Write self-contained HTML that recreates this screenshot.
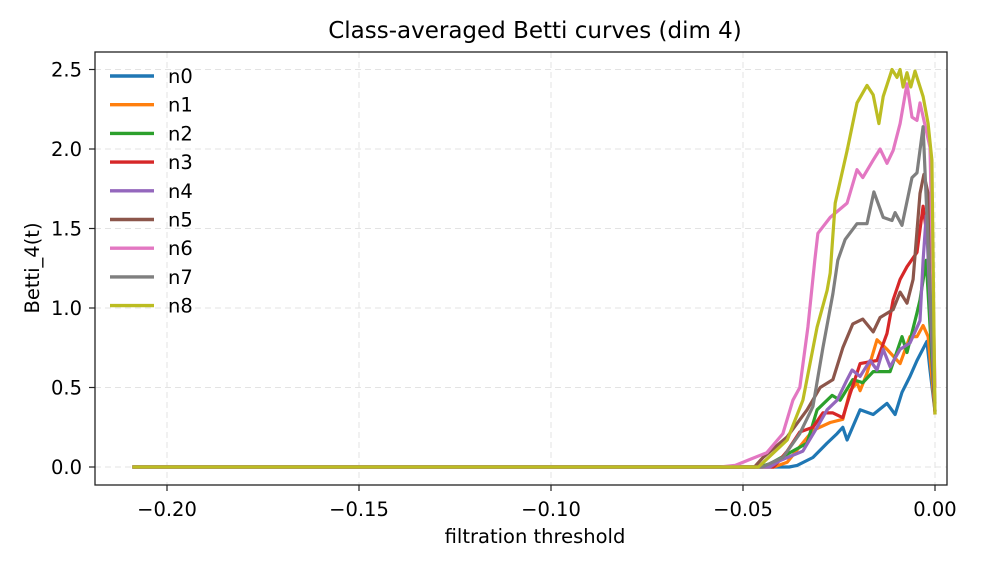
<!DOCTYPE html>
<html><head><meta charset="utf-8"><style>
body{margin:0;background:#fff}
svg{font-family:"DejaVu Sans","Liberation Sans",sans-serif}
</style></head><body>
<svg id="chart" width="997" height="570" xmlns="http://www.w3.org/2000/svg">
<rect width="997" height="570" fill="#fff"/>
<text x="535" y="38" font-size="23" text-anchor="middle">Class-averaged Betti curves (dim 4)</text>
<g id="grid"></g>
<g id="series"></g>
<rect x="95" y="52" width="852" height="433" fill="none" stroke="#222" stroke-width="1.3"/>
<g id="axes" font-size="19.5"></g>
<text x="535" y="543" font-size="19.5" text-anchor="middle">filtration threshold</text>
<text transform="translate(39,268) rotate(-90)" font-size="19.5" text-anchor="middle">Betti_4(t)</text>
<g id="legend" font-size="19.5"></g>
</svg>
<script>
const xTicks=[-0.20,-0.15,-0.10,-0.05,0.00];
const xTickLabels=["−0.20","−0.15","−0.10","−0.05","0.00"];
const yTicks=[0,0.5,1,1.5,2,2.5];
const yTickLabels=["0.0","0.5","1.0","1.5","2.0","2.5"];
const seriesNames=["n0","n1","n2","n3","n4","n5","n6","n7","n8"];
const colors=["#1f77b4","#ff7f0e","#2ca02c","#d62728","#9467bd","#8c564b","#e377c2","#7f7f7f","#bcbd22"];
const t0=[-0.209,-0.038,-0.0359,-0.0318,-0.0281,-0.0255,-0.024,-0.0229,-0.0195,-0.0161,-0.0125,-0.0104,-0.0086,-0.0065,-0.0047,-0.0021,-0.0013,0];
const v0=[0,0,0.01,0.06,0.15,0.21,0.25,0.17,0.36,0.33,0.40,0.33,0.47,0.57,0.67,0.79,0.61,0.35];
const t1=[-0.209,-0.042,-0.0385,-0.0318,-0.0273,-0.024,-0.0221,-0.0203,-0.0195,-0.0177,-0.0151,-0.0125,-0.0091,-0.0065,-0.0047,-0.0031,-0.0018,0];
const v1=[0,0,0.03,0.23,0.28,0.30,0.48,0.53,0.48,0.59,0.80,0.74,0.65,0.82,0.82,0.89,0.82,0.35];
const t2=[-0.209,-0.046,-0.043,-0.0333,-0.0307,-0.0268,-0.0247,-0.0214,-0.0188,-0.0161,-0.0117,-0.0086,-0.0073,-0.0047,-0.0039,-0.0023,0];
const v2=[0,0,0.02,0.15,0.36,0.45,0.42,0.55,0.53,0.60,0.60,0.82,0.72,0.97,1.05,1.30,0.35];
const t3=[-0.209,-0.042,-0.0385,-0.0352,-0.0318,-0.0292,-0.0266,-0.024,-0.0221,-0.0195,-0.0151,-0.0125,-0.0109,-0.0091,-0.0073,-0.0047,-0.0031,-0.0018,0];
const v3=[0,0,0.10,0.22,0.25,0.34,0.34,0.31,0.46,0.65,0.67,0.84,1.05,1.18,1.26,1.35,1.64,1.40,0.33];
const t4=[-0.209,-0.043,-0.0404,-0.0344,-0.0307,-0.0281,-0.0255,-0.0229,-0.0216,-0.0195,-0.0169,-0.0151,-0.0135,-0.0117,-0.0091,-0.0065,-0.0039,-0.0031,-0.0023,0];
const v4=[0,0,0.04,0.10,0.25,0.36,0.42,0.55,0.61,0.57,0.67,0.61,0.74,0.63,0.74,0.78,0.92,1.30,1.58,0.35];
const t5=[-0.209,-0.047,-0.0448,-0.0385,-0.0333,-0.0299,-0.0266,-0.024,-0.0214,-0.0188,-0.0161,-0.0143,-0.0109,-0.0091,-0.0073,-0.0057,-0.0039,-0.0029,-0.0018,0];
const v5=[0,0,0.06,0.19,0.36,0.50,0.55,0.75,0.90,0.93,0.85,0.94,0.99,1.10,1.03,1.18,1.72,1.84,1.72,0.35];
const t6=[-0.209,-0.056,-0.052,-0.048,-0.0438,-0.0396,-0.037,-0.0352,-0.0331,-0.0313,-0.0305,-0.0273,-0.0229,-0.0203,-0.0188,-0.0161,-0.0143,-0.0125,-0.0109,-0.0091,-0.0073,-0.006,-0.0047,-0.0039,-0.0013,0];
const v6=[0,0,0.01,0.05,0.09,0.21,0.42,0.50,0.88,1.30,1.47,1.57,1.66,1.87,1.82,1.93,2.00,1.91,1.99,2.16,2.41,2.20,2.18,2.29,2.01,0.50];
const t7=[-0.209,-0.045,-0.0396,-0.0352,-0.0318,-0.0292,-0.0266,-0.0253,-0.0234,-0.0203,-0.0177,-0.0159,-0.0135,-0.0112,-0.0104,-0.0086,-0.006,-0.0047,-0.0031,0];
const v7=[0,0,0.06,0.21,0.38,0.75,1.09,1.30,1.43,1.53,1.53,1.73,1.57,1.55,1.60,1.52,1.82,1.85,2.14,0.40];
const t8=[-0.209,-0.046,-0.0385,-0.0344,-0.0307,-0.0281,-0.0273,-0.026,-0.0229,-0.0203,-0.0177,-0.0161,-0.0146,-0.0135,-0.0112,-0.0099,-0.0091,-0.0083,-0.0073,-0.0063,-0.0052,-0.0031,-0.0018,-0.0008,0];
const v8=[0,0,0.17,0.42,0.88,1.11,1.22,1.66,1.99,2.29,2.40,2.34,2.16,2.33,2.50,2.45,2.50,2.39,2.48,2.39,2.49,2.33,2.16,1.93,0.33];
const T=[t0,t1,t2,t3,t4,t5,t6,t7,t8], V=[v0,v1,v2,v3,v4,v5,v6,v7,v8];
const NS="http://www.w3.org/2000/svg";
const xs=t=>935+t*3840, ys=v=>467-v*159;
function mk(tag,attrs,parent){const e=document.createElementNS(NS,tag);for(const k in attrs)e.setAttribute(k,attrs[k]);parent.appendChild(e);return e;}
const grid=document.getElementById('grid'),axes=document.getElementById('axes'),ser=document.getElementById('series'),leg=document.getElementById('legend');
xTicks.forEach((t,i)=>{const x=xs(t);
 let g=mk('line',{x1:x,x2:x,y1:52,y2:485,stroke:'#e3e3e3','stroke-dasharray':'6,4','stroke-width':1},grid);
 
 
 let tk=mk('line',{x1:x,x2:x,y1:485,y2:491,stroke:'#222','stroke-width':1.2},axes);
 
 
 let tx=mk('text',{x:x,y:516,'text-anchor':'middle'},axes);tx.textContent=xTickLabels[i];
 
 
});
yTicks.forEach((v,i)=>{const y=ys(v);
 let g=mk('line',{x1:95,x2:947,y1:y,y2:y,stroke:'#e3e3e3','stroke-dasharray':'6,4','stroke-width':1},grid);
 
 
 let tk=mk('line',{x1:89,x2:95,y1:y,y2:y,stroke:'#222','stroke-width':1.2},axes);
 
 
 let tx=mk('text',{x:82,y:y+7.2,'text-anchor':'end'},axes);tx.textContent=yTickLabels[i];
 
 
});
T.forEach((ts,i)=>{const d=ts.map((t,j)=>(j?'L':'M')+xs(t).toFixed(1)+','+ys(V[i][j]).toFixed(1)).join('');
 let p=mk('path',{d:d,fill:'none',stroke:colors[i],'stroke-width':3.2,'stroke-linejoin':'round'},ser);
 
 
 const y=76+i*28.7;
 let l=mk('line',{x1:110,x2:154,y1:y,y2:y,stroke:colors[i],'stroke-width':3.4},leg);
 
 
 let tx=mk('text',{x:168,y:y+7},leg);tx.textContent=seriesNames[i];
 
 
});
</script>
</body></html>
